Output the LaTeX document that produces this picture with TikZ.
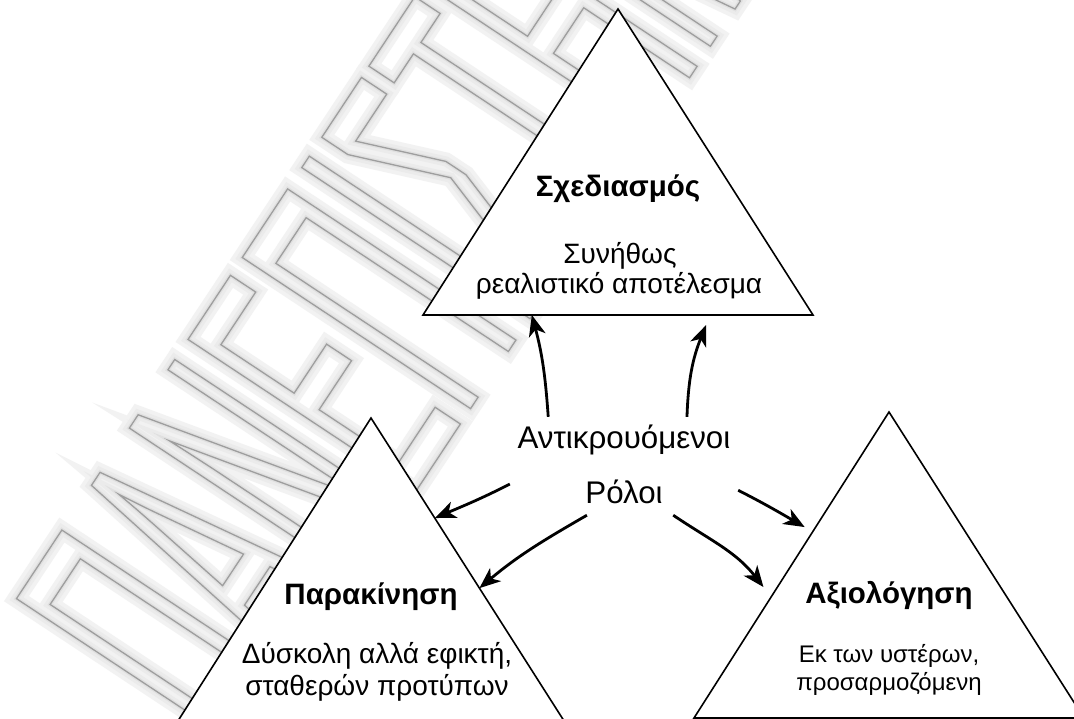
\documentclass[tikz,border=0pt]{standalone}
\usepackage{fontspec}
\setmainfont{Liberation Sans}
\newfontfamily\wmfont[FakeStretch=0.37]{Liberation Sans}
\usetikzlibrary{arrows.meta,calc}

% outlined watermark lettering: text render mode 1 (stroke only)
\newcommand\wmtext[1]{%
  \special{pdf:literal direct 1 Tr #1 w}%
  \wmfont\fontsize{398bp}{400bp}\selectfont
  ΠΑΝΕΠΙΣΤΗΜΙΟ ΠΕΙΡΑΙΩΣ%
  \special{pdf:literal direct 0 Tr}}

\tikzset{
  tri/.style={draw=black, line width=1.6bp, fill=white, line join=miter},
  head/.style={font=\bfseries\fontsize{29.5bp}{33bp}\selectfont, anchor=base, inner sep=0},
  body/.style={font=\fontsize{28bp}{32bp}\selectfont, anchor=base, inner sep=0},
  bodysm/.style={font=\fontsize{24bp}{27bp}\selectfont, anchor=base, inner sep=0},
  lbltext/.style={font=\fontsize{31.3bp}{36bp}\selectfont, anchor=base, inner sep=0},
  conn/.style={line width=2.8bp, -{Stealth[length=21bp,width=17bp,inset=6bp]}},
  wm/.style={anchor=base west, rotate=56.5, inner sep=0},
}

\begin{document}
\begin{tikzpicture}[x=1bp,y=1bp]
\useasboundingbox (0,0) rectangle (1074,-719);
\fill[white] (0,0) rectangle (1074,-719);

% background watermark: soft halo layers, then the thin outline
\begin{scope}
  \clip (0,0) rectangle (1074,-719);
  \node[wm, text=black!5]  (wmhalo) at (238,-760) {\wmtext{18}};
  \node[wm, text=black!8]  (wmglow) at (238,-760) {\wmtext{10}};
  \node[wm, text=black!12] (wmsoft) at (238,-760) {\wmtext{4}};
  \node[wm, text=black!38] (wmline) at (238,-760) {\wmtext{1.3}};
\end{scope}

% triangle corners
\coordinate (Ta) at (618,-9);   \coordinate (Tl) at (423,-315); \coordinate (Tr) at (813,-315);
\coordinate (La) at (371,-418); \coordinate (Ll) at (176,-724); \coordinate (Lr) at (566,-724);
\coordinate (Ra) at (889,-412); \coordinate (Rl) at (694,-718); \coordinate (Rr) at (1084,-718);

\draw[tri] (Ta) -- (Tl) -- (Tr) -- cycle;
\draw[tri] (La) -- (Ll) -- (Lr) -- cycle;
\draw[tri] (Ra) -- (Rl) -- (Rr) -- cycle;

% texts inside the triangles
\node[head] (th)  at (618,-197) {Σχεδιασμός};
\node[body] (tb1) at (620,-263) {Συνήθως};
\node[body] (tb2) at (619,-293) {ρεαλιστικό αποτέλεσμα};

\node[head] (lh)  at (371,-604) {Παρακίνηση};
\node[body] (lb1) at (377,-663) {Δύσκολη αλλά εφικτή,};
\node[body] (lb2) at (377,-695) {σταθερών προτύπων};

\node[head]   (rh)  at (889,-603) {Αξιολόγηση};
\node[bodysm] (rb1) at (889,-662) {Εκ των υστέρων,};
\node[bodysm] (rb2) at (889,-690) {προσαρμοζόμενη};

% central label
\node[fill=white, minimum width=228bp, minimum height=98bp, inner sep=0] (lbl) at (624,-466) {};
\node[lbltext] (lbl1) at (624,-448) {Αντικρουόμενοι};
\node[lbltext] (lbl2) at (624,-503) {Ρόλοι};

% arrow end points on the triangles
\coordinate (e1) at ($(Tl)!0.279!(Tr)$);
\coordinate (e2) at ($(Tl)!0.726!(Tr)+(0,-10)$);
\coordinate (e3) at ($(La)!0.327!(Lr)$);
\coordinate (e4) at ($(La)!0.556!(Lr)$);
\coordinate (e5) at ($(Ra)!0.376!(Rl)+(-11,0)$);
\coordinate (e6) at ($(Ra)!0.572!(Rl)+(-14,0)$);

\draw[conn] (lbl.147)   to[out=94,  in=-75]  (e1);
\draw[conn] (lbl.38.8)  to[out=88,  in=-112] (e2);
\draw[conn] (lbl.189.5) to[out=207, in=23]   (e3);
\draw[conn] (lbl.233.5) to[out=210, in=40]   (e4);
\draw[conn] (lbl.-12.8) to[out=-27, in=150]  (e5);
\draw[conn] (lbl.-45)   to[out=-34, in=128]  (e6);
\end{tikzpicture}
\end{document}
